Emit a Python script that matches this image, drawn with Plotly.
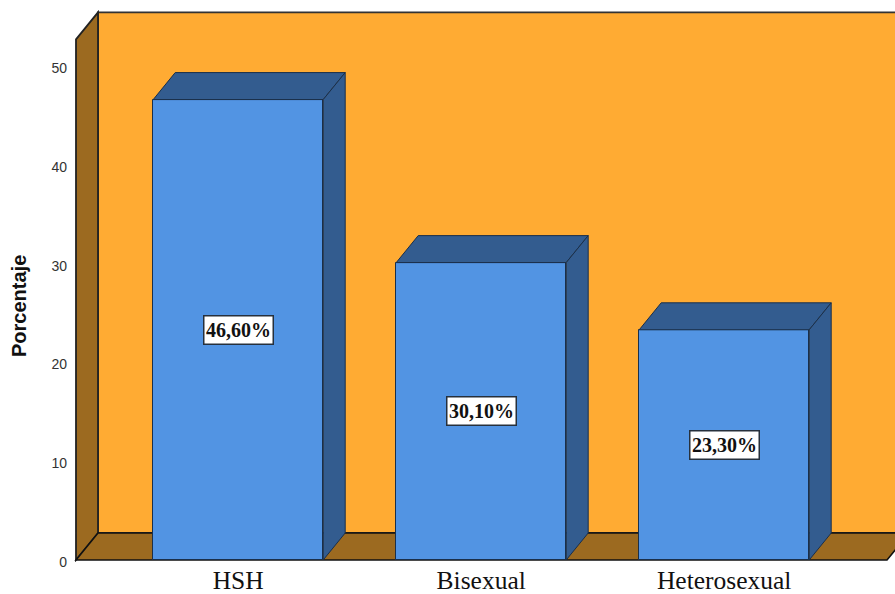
import plotly.graph_objects as go

# Chart content
categories = ["HSH", "Bisexual", "Heterosexual"]
porcentaje = [46.6, 30.1, 23.3]
value_labels = ["46,60%", "30,10%", "23,30%"]
y_ticks = [0, 10, 20, 30, 40, 50]

# Colours
WALL = "#FFAB33"
WALL_SHADE = "#9C6A20"
BAR = "#5294E3"
BAR_SHADE = "#335C8F"
EDGE_DARK = "#1A2F4A"
EDGE = "#111111"

# Scale of the drawing area: pixels per unit on each axis
PX_X = 243.0
PX_Y = 9.88
WIDTH, HEIGHT = 895, 594
PLOT_L, PLOT_T, PLOT_B = 70, 6, 562
ORIGIN_X, ORIGIN_Y = 238.2, 560.0  # pixel position of category 0 / value 0

x_range = [(PLOT_L - ORIGIN_X) / PX_X, (WIDTH - ORIGIN_X) / PX_X]
y_range = [(ORIGIN_Y - PLOT_B) / PX_Y, (ORIGIN_Y - PLOT_T) / PX_Y]

# Extrusion of the pseudo-3D box, in axis units
DX = 22.0 / PX_X
DY = 27.0 / PX_Y
BAR_W = 170.0 / PX_X
HALF = BAR_W / 2
WALL_TOP = 52.7
FRONT_L = (76.0 - ORIGIN_X) / PX_X
FRONT_R = (887 - ORIGIN_X) / PX_X


def path(points):
    return "M " + " L ".join(f"{x},{y}" for x, y in points) + " Z"


def poly_shape(points, fill, line=EDGE, width=1.5):
    return dict(type="path", xref="x", yref="y", layer="below", path=path(points),
                fillcolor=fill, line=dict(color=line, width=width))


shapes = [
    # back wall, left wall and floor
    poly_shape([(FRONT_L + DX, DY), (FRONT_R + DX, DY), (FRONT_R + DX, WALL_TOP + DY),
                (FRONT_L + DX, WALL_TOP + DY)], WALL, "#333333", 1.8),
    poly_shape([(FRONT_L, 0), (FRONT_L + DX, DY), (FRONT_L + DX, WALL_TOP + DY),
                (FRONT_L, WALL_TOP)], WALL_SHADE, "#222222", 1.8),
    poly_shape([(FRONT_L, 0), (FRONT_R, 0), (FRONT_R + DX, DY), (FRONT_L + DX, DY)],
               WALL_SHADE, "#111111", 1.6),
]

fig = go.Figure()

# Front faces
positions = list(range(len(categories)))
fig.add_trace(go.Bar(
    x=positions, y=porcentaje, width=BAR_W,
    marker=dict(color=BAR, line=dict(color=EDGE_DARK, width=1)),
    hoverinfo="skip", showlegend=False,
))

# Top and side faces of each bar
for pos, value in zip(positions, porcentaje):
    left, right = pos - HALF, pos + HALF
    top_x = [left, right, right + DX, left + DX, left]
    top_y = [value, value, value + DY, value + DY, value]
    side_x = [right, right + DX, right + DX, right, right]
    side_y = [0, DY, value + DY, value, 0]
    for xs, ys in ((top_x, top_y), (side_x, side_y)):
        fig.add_trace(go.Scatter(
            x=xs, y=ys, mode="lines", fill="toself", fillcolor=BAR_SHADE,
            line=dict(color=EDGE_DARK, width=1), hoverinfo="skip", showlegend=False,
        ))

# Value labels in the middle of each bar
annotations = [
    dict(x=pos, y=value / 2, xref="x", yref="y", text=f"<b>{label}</b>", showarrow=False,
         font=dict(family="Liberation Serif", size=20, color="#111111"),
         bgcolor="white", bordercolor="#26303C", borderwidth=1.5,
         width=66, height=25, align="center", valign="middle")
    for pos, value, label in zip(positions, porcentaje, value_labels)
]

# Y axis title
annotations.append(dict(
    x=(19 - PLOT_L) / (WIDTH - PLOT_L), y=(PLOT_B - 306) / (PLOT_B - PLOT_T),
    xref="paper", yref="paper", xanchor="center", yanchor="middle",
    text="<b>Porcentaje</b>", showarrow=False, textangle=-90,
    font=dict(family="Liberation Sans", size=20, color="#111111"),
))

fig.update_layout(
    width=WIDTH, height=HEIGHT,
    margin=dict(l=PLOT_L, r=0, t=PLOT_T, b=HEIGHT - PLOT_B, pad=0, autoexpand=False),
    paper_bgcolor="white", plot_bgcolor="white",
    shapes=shapes, annotations=annotations, bargap=0,
    xaxis=dict(range=x_range, tickmode="array", tickvals=positions, ticktext=categories,
               showgrid=False, zeroline=False, showline=False, ticks="",
               tickfont=dict(family="Liberation Serif", size=25.5, color="#111111"),
               ticklabelstandoff=0, fixedrange=True),
    yaxis=dict(range=y_range, tickmode="array", tickvals=y_ticks,
               showgrid=False, zeroline=False, showline=False, ticks="",
               tickfont=dict(family="Liberation Sans", size=14, color="#333333"),
               ticklabelstandoff=2, ticklabelshift=2, fixedrange=True),
)

fig.write_html("out.html", config={"displayModeBar": False})
